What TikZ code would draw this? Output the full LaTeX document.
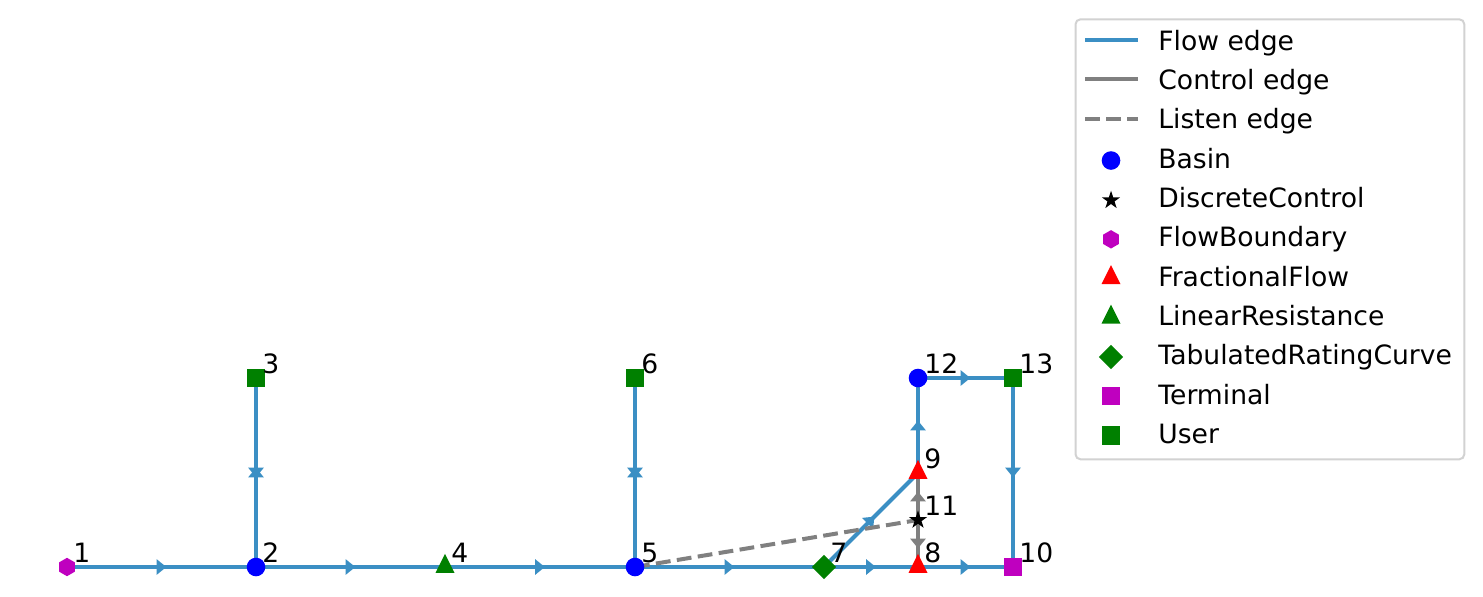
\documentclass[tikz,border=0pt]{standalone}
\usepackage{fontspec}
\setmainfont{DejaVu Sans}
\usepackage{tikz}
\usetikzlibrary{shapes.geometric,arrows.meta,decorations.markings,backgrounds}
\definecolor{flowblue}{RGB}{59,143,196}
\definecolor{ctrlgray}{RGB}{128,128,128}
\definecolor{basinblue}{RGB}{0,0,255}
\definecolor{bndmagenta}{RGB}{191,0,191}
\definecolor{fracred}{RGB}{255,0,0}
\definecolor{usergreen}{RGB}{0,128,0}
\definecolor{legendframe}{RGB}{210,210,210}
\tikzset{
  basin/.style={circle, fill=basinblue, minimum size=9.3pt, inner sep=0pt},
  dctrl/.style={star, star points=5, star point ratio=2.6, fill=black, minimum size=9.6pt, inner sep=0pt},
  flowbnd/.style={regular polygon, regular polygon sides=6, shape border rotate=30, fill=bndmagenta, minimum size=9.2pt, inner sep=0pt},
  tri/.style={isosceles triangle, isosceles triangle apex angle=53.13, isosceles triangle stretches, shape border rotate=90, minimum width=9.5pt, minimum height=9.5pt, inner sep=0pt},
  fracflow/.style={tri, fill=fracred},
  linres/.style={tri, fill=usergreen},
  ratecurve/.style={diamond, fill=usergreen, minimum width=12.2pt, minimum height=12.2pt, inner sep=0pt},
  terminal/.style={rectangle, fill=bndmagenta, minimum size=9.2pt, inner sep=0pt},
  user/.style={rectangle, fill=usergreen, minimum size=9.2pt, inner sep=0pt},
  numlbl/.style={anchor=base west, xshift=3pt, yshift=2.5pt, inner sep=0pt, font=\fontsize{13.3}{16}\selectfont},
  lgtext/.style={anchor=base west, inner sep=0pt, font=\fontsize{13.3}{16}\selectfont},
  midarrow/.style={postaction={decorate}, decoration={markings, mark=at position 0.5 with {\fill[#1] (2.4pt,0) -- (-2.4pt,3.9pt) -- (-2.4pt,-3.9pt) -- cycle;}}},
  flowedge/.style={draw=flowblue, line width=2pt, midarrow=flowblue},
  ctrledge/.style={draw=ctrlgray, line width=2pt, midarrow=ctrlgray},
  listenedge/.style={draw=ctrlgray, line width=2pt, dash pattern=on 7.4pt off 3.2pt},
  legendbox/.style={draw=legendframe, line width=1pt, rounded corners=2.5pt, fill=white, minimum width=194.4pt, minimum height=220pt, inner sep=0pt},
}

\begin{document}
\begin{tikzpicture}[x=0.5pt, y=-0.5pt]
  \useasboundingbox (0,0) rectangle (1483,596);
  \begin{scope}[on background layer]
    \fill[white] (0,0) rectangle (1483,596);
  \end{scope}

  % Network nodes
  \node[flowbnd]   (n1)  at (67,567)   {};
  \node[basin]     (n2)  at (256,567)  {};
  \node[user]      (n3)  at (256,378)  {};
  \node[linres]    (n4)  at (445,567)  {};
  \node[basin]     (n5)  at (635,567)  {};
  \node[user]      (n6)  at (635,378)  {};
  \node[ratecurve] (n7)  at (824,567)  {};
  \node[fracflow]  (n8)  at (918,567)  {};
  \node[fracflow]  (n9)  at (918,473)  {};
  \node[terminal]  (n10) at (1013,567) {};
  \node[dctrl]     (n11) at (918,520)  {};
  \node[basin]     (n12) at (918,378)  {};
  \node[user]      (n13) at (1013,378) {};

  % Node ids
  \node[numlbl] (t1)  at (n1.center)  {1};
  \node[numlbl] (t2)  at (n2.center)  {2};
  \node[numlbl] (t3)  at (n3.center)  {3};
  \node[numlbl] (t4)  at (n4.center)  {4};
  \node[numlbl] (t5)  at (n5.center)  {5};
  \node[numlbl] (t6)  at (n6.center)  {6};
  \node[numlbl] (t7)  at (n7.center)  {7};
  \node[numlbl] (t8)  at (n8.center)  {8};
  \node[numlbl] (t9)  at (n9.center)  {9};
  \node[numlbl] (t10) at (n10.center) {10};
  \node[numlbl] (t11) at (n11.center) {11};
  \node[numlbl] (t12) at (n12.center) {12};
  \node[numlbl] (t13) at (n13.center) {13};

  % Edges, under the markers
  \begin{scope}[on background layer]
    \draw[flowedge] (n1.center) -- (n2.center);
    \draw[flowedge] (n2.center) -- (n3.center);
    \draw[flowedge] (n3.center) -- (n2.center);
    \draw[flowedge] (n2.center) -- (n4.center);
    \draw[flowedge] (n4.center) -- (n5.center);
    \draw[flowedge] (n5.center) -- (n6.center);
    \draw[flowedge] (n6.center) -- (n5.center);
    \draw[flowedge] (n5.center) -- (n7.center);
    \draw[flowedge] (n7.center) -- (n8.center);
    \draw[flowedge] (n8.center) -- (n10.center);
    \draw[flowedge] (n7.center) -- (n9.center);
    \draw[flowedge] (n9.center) -- (n12.center);
    \draw[flowedge] (n12.center) -- (n13.center);
    \draw[flowedge] (n13.center) -- (n10.center);
    \draw[ctrledge] (n11.center) -- (n9.center);
    \draw[ctrledge] (n11.center) -- (n8.center);
    \draw[listenedge] (n5.center) -- (n11.center);
  \end{scope}

  % Legend
  \node[legendbox] (legend) at (1269.9,239.3) {};
  \coordinate (la1) at (1085,40);    \coordinate (lb1) at (1138,40);
  \coordinate (la2) at (1085,79.3);  \coordinate (lb2) at (1138,79.3);
  \coordinate (la3) at (1085,118.7); \coordinate (lb3) at (1138,118.7);
  \draw[draw=flowblue, line width=2pt] (la1) -- (lb1);
  \draw[draw=ctrlgray, line width=2pt] (la2) -- (lb2);
  \draw[listenedge] (la3) -- (lb3);
  \node[basin]     (lm4)  at (1111,160.5) {};
  \node[dctrl]     (lm5)  at (1111,200.3) {};
  \node[flowbnd]   (lm6)  at (1111,239.3) {};
  \node[fracflow]  (lm7)  at (1111,278.3) {};
  \node[linres]    (lm8)  at (1111,317.8) {};
  \node[ratecurve] (lm9)  at (1111,357)   {};
  \node[terminal]  (lm10) at (1111,396)   {};
  \node[user]      (lm11) at (1111,435.5) {};
  \node[lgtext] (lt1)  at (1158,50)    {Flow edge};
  \node[lgtext] (lt2)  at (1158,89.3)  {Control edge};
  \node[lgtext] (lt3)  at (1158,128.7) {Listen edge};
  \node[lgtext] (lt4)  at (1158,168)   {Basin};
  \node[lgtext] (lt5)  at (1158,207.3) {DiscreteControl};
  \node[lgtext] (lt6)  at (1158,246.7) {FlowBoundary};
  \node[lgtext] (lt7)  at (1158,286)   {FractionalFlow};
  \node[lgtext] (lt8)  at (1158,325.3) {LinearResistance};
  \node[lgtext] (lt9)  at (1158,364.7) {TabulatedRatingCurve};
  \node[lgtext] (lt10) at (1158,404)   {Terminal};
  \node[lgtext] (lt11) at (1158,443.3) {User};
\end{tikzpicture}
\end{document}
